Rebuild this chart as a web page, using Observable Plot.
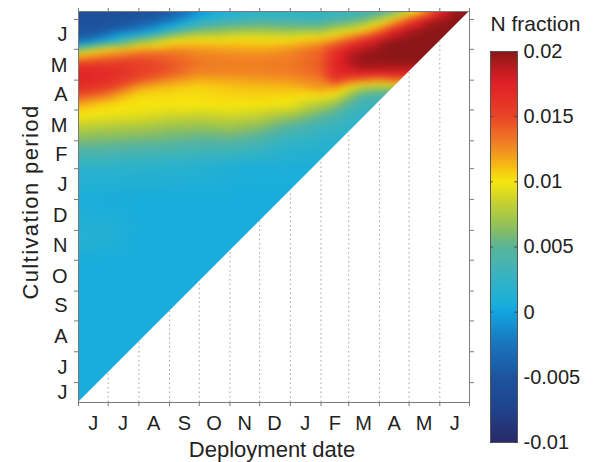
<!DOCTYPE html>
<html><head><meta charset="utf-8">
<script src="https://cdn.jsdelivr.net/npm/d3@7"></script>
<script src="https://cdn.jsdelivr.net/npm/@observablehq/plot@0.6"></script>
<style>
body{margin:0;background:#fff;}
#wrap{position:relative;width:595px;height:462px;background:#fff;font-family:"Liberation Sans",Arial,Helvetica,sans-serif;}
#main{position:absolute;left:0;top:0;}
#bar{position:absolute;left:480px;top:0;}
</style></head><body>
<div id="wrap"><div id="main"></div><div id="bar"></div></div>
<script>
// ---- data ----
// deployment dates (x sample columns)
const deploymentDates = ["2010-06-01","2010-07-01","2010-08-01","2010-09-01","2010-10-01","2010-11-01","2010-12-01","2011-01-01","2011-02-01","2011-02-15","2011-03-01","2011-03-15","2011-04-01","2011-04-15","2011-05-01","2011-05-15","2011-06-01","2011-06-15","2011-07-01"];
// cultivation-period dates (y sample rows, top to bottom)
const cultivationDates = ["2011-07-09","2011-07-01","2011-06-20","2011-06-10","2011-06-01","2011-05-24","2011-05-16","2011-05-08","2011-05-01","2011-04-22","2011-04-13","2011-04-04","2011-03-25","2011-03-14","2011-03-01","2011-02-15","2011-02-01","2011-01-01","2010-12-01","2010-11-16","2010-11-01","2010-10-01","2010-08-01","2010-06-11"];
// N fraction, one row per cultivation date, one column per deployment date
const nFraction = [
 [-0.0055,-0.0055,-0.0055,-0.0045,-0.0012,0.0012,0.002,0.0022,0.0025,0.0026,0.0028,0.003,0.0032,0.0045,0.0078,0.011,0.0165,0.0195,0.02],
 [-0.0055,-0.0055,-0.005,-0.003,0.0012,0.0028,0.0035,0.0033,0.003,0.0038,0.0042,0.0052,0.0075,0.0105,0.0145,0.0175,0.0195,0.02,0.02],
 [-0.005,-0.0045,-0.002,0.0025,0.0058,0.0068,0.0072,0.0068,0.0068,0.0082,0.009,0.0105,0.0135,0.017,0.0192,0.0198,0.02,0.02,0.02],
 [-0.004,0.0005,0.006,0.0095,0.0103,0.0103,0.0103,0.0103,0.0115,0.0125,0.0142,0.0165,0.0185,0.0198,0.02,0.02,0.02,0.02,0.02],
 [0.006,0.0105,0.012,0.0125,0.0122,0.012,0.0118,0.0125,0.0138,0.0158,0.0178,0.019,0.0197,0.02,0.02,0.02,0.02,0.02,0.02],
 [0.012,0.0135,0.0145,0.014,0.013,0.0128,0.0128,0.013,0.0142,0.0168,0.0188,0.0197,0.0199,0.02,0.02,0.02,0.02,0.02,0.02],
 [0.0162,0.016,0.0155,0.0145,0.0132,0.013,0.013,0.0132,0.0142,0.017,0.0185,0.0196,0.0195,0.0195,0.0195,0.0195,0.0195,0.0195,0.0195],
 [0.0172,0.0168,0.0155,0.0142,0.0128,0.0128,0.0128,0.013,0.014,0.0168,0.017,0.0175,0.0175,0.0175,0.0175,0.0175,0.0175,0.0175,0.0175],
 [0.0172,0.0165,0.0145,0.0125,0.0115,0.0117,0.012,0.0122,0.013,0.0158,0.0142,0.0135,0.0125,0.0135,0.0135,0.0135,0.0135,0.0135,0.0135],
 [0.0162,0.015,0.0115,0.0108,0.0104,0.0108,0.011,0.0111,0.012,0.0115,0.0092,0.0068,0.0062,0.0062,0.0062,0.0062,0.0062,0.0062,0.0062],
 [0.0138,0.012,0.0102,0.0102,0.0102,0.0104,0.0105,0.0102,0.0095,0.0088,0.0062,0.004,0.0035,0.0035,0.0035,0.0035,0.0035,0.0035,0.0035],
 [0.011,0.0102,0.01,0.0098,0.0099,0.0099,0.0097,0.0094,0.0072,0.006,0.004,0.003,0.003,0.003,0.003,0.003,0.003,0.003,0.003],
 [0.0098,0.0095,0.0092,0.0086,0.0083,0.0086,0.0082,0.0068,0.0048,0.004,0.0028,0.0025,0.0025,0.0025,0.0025,0.0025,0.0025,0.0025,0.0025],
 [0.008,0.0076,0.0074,0.0068,0.0066,0.007,0.0062,0.0043,0.003,0.0027,0.0022,0.0022,0.0022,0.0022,0.0022,0.0022,0.0022,0.0022,0.0022],
 [0.006,0.0058,0.0055,0.0052,0.0048,0.0048,0.004,0.0025,0.002,0.0018,0.0018,0.0018,0.0018,0.0018,0.0018,0.0018,0.0018,0.0018,0.0018],
 [0.0038,0.0037,0.0034,0.0032,0.003,0.0027,0.0022,0.0015,0.0013,0.0013,0.0013,0.0013,0.0013,0.0013,0.0013,0.0013,0.0013,0.0013,0.0013],
 [0.002,0.002,0.0019,0.0017,0.0015,0.001,0.0008,0.0008,0.0008,0.0008,0.0008,0.0008,0.0008,0.0008,0.0008,0.0008,0.0008,0.0008,0.0008],
 [0.0007,0.0006,0.0005,0.0005,0.0005,0.0005,0.0005,0.0005,0.0005,0.0005,0.0005,0.0005,0.0005,0.0005,0.0005,0.0005,0.0005,0.0005,0.0005],
 [0.0014,0.0013,0.0006,0.0005,0.0005,0.0005,0.0005,0.0005,0.0005,0.0005,0.0005,0.0005,0.0005,0.0005,0.0005,0.0005,0.0005,0.0005,0.0005],
 [0.0014,0.0012,0.0005,0.0005,0.0005,0.0005,0.0005,0.0005,0.0005,0.0005,0.0005,0.0005,0.0005,0.0005,0.0005,0.0005,0.0005,0.0005,0.0005],
 [0.0006,0.0005,0.0005,0.0005,0.0005,0.0005,0.0005,0.0005,0.0005,0.0005,0.0005,0.0005,0.0005,0.0005,0.0005,0.0005,0.0005,0.0005,0.0005],
 [0.0005,0.0005,0.0005,0.0005,0.0005,0.0005,0.0005,0.0005,0.0005,0.0005,0.0005,0.0005,0.0005,0.0005,0.0005,0.0005,0.0005,0.0005,0.0005],
 [0.0005,0.0005,0.0005,0.0005,0.0005,0.0005,0.0005,0.0005,0.0005,0.0005,0.0005,0.0005,0.0005,0.0005,0.0005,0.0005,0.0005,0.0005,0.0005],
 [0.0005,0.0005,0.0005,0.0005,0.0005,0.0005,0.0005,0.0005,0.0005,0.0005,0.0005,0.0005,0.0005,0.0005,0.0005,0.0005,0.0005,0.0005,0.0005]
];
// axes
const xExtent = ["2010-06-01","2011-07-01"];
const yExtent = ["2010-06-11","2011-07-09"];
const xTickDates = ["2010-06-01","2010-07-01","2010-08-01","2010-09-01","2010-10-01","2010-11-01","2010-12-01","2011-01-01","2011-02-01","2011-03-01","2011-04-01","2011-05-01","2011-06-01","2011-07-01"];
const yTickDates = ["2010-07-01","2010-08-01","2010-09-01","2010-10-01","2010-11-01","2010-12-01","2011-01-01","2011-02-01","2011-03-01","2011-04-01","2011-05-01","2011-06-01","2011-07-01"];
const xLabelDates = ["2010-06-16","2010-07-16","2010-08-16","2010-09-16","2010-10-16","2010-11-16","2010-12-16","2011-01-16","2011-02-15","2011-03-16","2011-04-16","2011-05-16","2011-06-16"];
const yLabelDates = ["2010-06-21","2010-07-16","2010-08-16","2010-09-16","2010-10-16","2010-11-16","2010-12-16","2011-01-16","2011-02-15","2011-03-16","2011-04-16","2011-05-16","2011-06-16"];
const monthLetters = ["J","J","A","S","O","N","D","J","F","M","A","M","J"];
const gridDates = ["2010-07-01","2010-08-01","2010-09-01","2010-10-01","2010-11-01","2010-12-01","2011-01-01","2011-02-01","2011-03-01","2011-04-01","2011-05-01","2011-06-01"];
// colour bar
const colorbarTicks = [-0.01,-0.005,0,0.005,0.01,0.015,0.02];
const colorStops = [-0.01,-0.0075,-0.005,-0.0025,0,0.0005,0.0025,0.005,0.0065,0.0085,0.01,0.011,0.0125,0.015,0.0175,0.0185,0.02];
const colorHex = ["#282a68","#1f428c","#1d559f","#1a74bd","#12a4de","#18addc","#32b3c6","#5bb49a","#8ebf5c","#c8d22e","#f6e60e","#f7c414","#f28c22","#ea4428","#e02026","#c41c22","#8a1616"];

// ---- build ----
const D = s => new Date(s + "T00:00:00Z");
const xDom = xExtent.map(D), yDom = yExtent.map(D);
const samples = [];
cultivationDates.forEach((yd, r) => deploymentDates.forEach((xd, c) => samples.push({x: D(xd), y: D(yd), v: nFraction[r][c]})));
const cmap = d3.scaleLinear().domain(colorStops).range(colorHex).interpolate(d3.interpolateRgb).clamp(true);
const colorScale = () => ({type: "linear", domain: [-0.01, 0.02], interpolate: t => cmap(-0.01 + t * 0.03)});
const diagY = x => new Date(+yDom[0] + (x - xDom[0]) / (xDom[1] - xDom[0]) * (yDom[1] - yDom[0]));
const xLabels = xLabelDates.map((d, i) => ({date: D(d), label: monthLetters[i]}));
const yLabels = yLabelDates.map((d, i) => ({date: D(d), label: monthLetters[i]}));
const font = "'Liberation Sans', Arial, Helvetica, sans-serif";
const axisGray = "#7a7a7a";

const main = Plot.plot({
  width: 480, height: 462,
  marginLeft: 78, marginRight: 11, marginTop: 11, marginBottom: 60,
  style: {fontFamily: font, fontSize: "20px", color: "#222", background: "transparent", overflow: "visible"},
  x: {type: "utc", domain: xDom},
  y: {type: "utc", domain: yDom},
  color: colorScale(),
  marks: [
    Plot.raster(samples, {x: "x", y: "y", fill: "v", interpolate: "barycentric", blur: 3}),
    Plot.areaY([{x: xDom[0], y1: yDom[0], y2: yDom[0]}, {x: xDom[1], y1: yDom[0], y2: yDom[1]}], {x: "x", y1: "y1", y2: "y2", fill: "white"}),
    Plot.ruleX(gridDates.map(D), {x: d => d, y1: () => yDom[0], y2: d => diagY(d), stroke: "#a0a0a0", strokeDasharray: "1.5,3"}),
    Plot.frame({stroke: axisGray}),
    Plot.axisX({ticks: xTickDates.map(D), anchor: "bottom", tickSize: 4, tickFormat: () => "", label: null, stroke: axisGray}),
    Plot.axisX({ticks: xTickDates.map(D), anchor: "top", tickSize: 4, tickFormat: () => "", label: null, stroke: axisGray}),
    Plot.axisY({ticks: yTickDates.map(D), anchor: "left", tickSize: 4, tickFormat: () => "", label: null, stroke: axisGray}),
    Plot.axisY({ticks: yTickDates.map(D), anchor: "right", tickSize: 4, tickFormat: () => "", label: null, stroke: axisGray}),
    Plot.text(xLabels, {x: "date", text: "label", frameAnchor: "bottom", dy: 13, lineAnchor: "top", fontSize: 20, fill: "#222"}),
    Plot.text(yLabels, {y: "date", text: "label", frameAnchor: "left", dx: -11, textAnchor: "end", lineAnchor: "middle", fontSize: 20, fill: "#222"}),
    Plot.text(["Deployment date"], {frameAnchor: "bottom", dx: -2, dy: 54, textAnchor: "middle", lineAnchor: "bottom", fontSize: 22, fill: "#222"}),
    Plot.text(["Cultivation period"], {frameAnchor: "left", dx: -48, dy: -5, rotate: -90, textAnchor: "middle", lineAnchor: "middle", fontSize: 22, fill: "#222"})
  ]
});
main.querySelectorAll("text").forEach(t => { if (t.textContent === "Cultivation period") t.style.letterSpacing = "1.4px"; });
document.getElementById("main").appendChild(main);

const bar = Plot.plot({
  width: 115, height: 462,
  marginLeft: 10, marginRight: 78, marginTop: 51, marginBottom: 20,
  style: {fontFamily: font, fontSize: "20px", color: "#222", background: "transparent", overflow: "visible"},
  x: {domain: [0, 1], axis: null},
  y: {domain: [-0.01, 0.02]},
  color: colorScale(),
  marks: [
    Plot.raster({fill: (x, y) => y, x1: 0, x2: 1, y1: -0.01, y2: 0.02}),
    Plot.frame({stroke: "#555"}),
    Plot.ruleY(colorbarTicks, {x1: 0, x2: 0.1, stroke: "#444"}),
    Plot.ruleY(colorbarTicks, {x1: 0.9, x2: 1, stroke: "#444"}),
    Plot.axisY({ticks: colorbarTicks, anchor: "right", tickSize: 0, tickPadding: 6, tickFormat: d => String(d), label: null, fontSize: 20, fill: "#222"}),
    Plot.text(["N fraction"], {frameAnchor: "top-left", dy: -35, textAnchor: "start", fontSize: 21, fill: "#222"})
  ]
});
document.getElementById("bar").appendChild(bar);
</script>
</body></html>
